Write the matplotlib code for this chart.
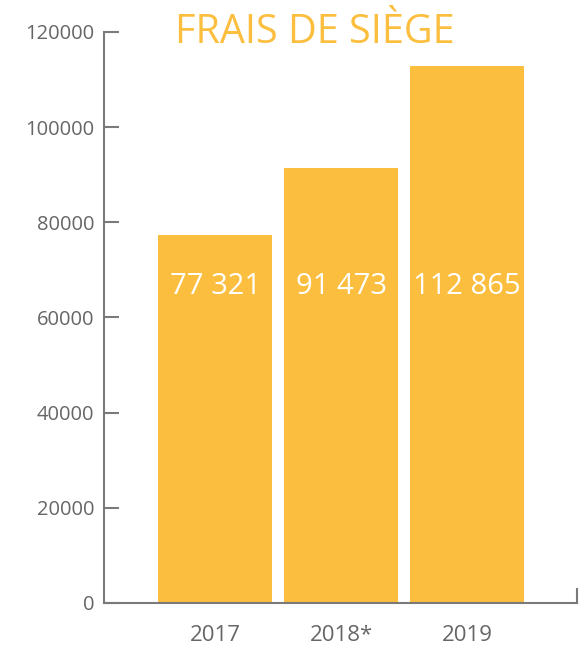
import matplotlib
matplotlib.use("Agg")
import matplotlib.pyplot as plt

years = ["2017", "2018*", "2019"]
values = [77321, 91473, 112865]
value_labels = ["77 321", "91 473", "112 865"]
yticks = [0, 20000, 40000, 60000, 80000, 100000, 120000]
title = "FRAIS DE SIÈGE"

plt.rcParams['font.family'] = ['Open Sans', 'DejaVu Sans']
bar_color = "#FCBE3E"
axis_color = "#7a7a7a"
text_color = "#666666"

fig = plt.figure(figsize=(5.84, 6.53), dpi=100)
ax = fig.add_axes([104/584, 1-603/653, (577-104)/584, (603-32)/653])

x = list(range(len(years)))
ax.bar(x, values, width=0.905, color=bar_color, zorder=2)
ax.set_xlim(-0.881, 2.873)
ax.set_ylim(0, 120000)

for xi, lab in zip(x, value_labels):
    ax.text(xi, 66600, lab, ha="center", va="center", color="white", fontsize=21, zorder=3)

ax.set_yticks(yticks)
ax.set_yticklabels([str(t) for t in yticks])
ax.tick_params(axis="y", direction="in", length=11, width=1.5, color=axis_color,
               labelcolor=text_color, labelsize=14.5, pad=7)
ax.set_xticks(x)
ax.set_xticklabels(years)
ax.tick_params(axis="x", length=0, labelcolor=text_color, labelsize=16, pad=16)

ax.spines["top"].set_visible(False)
for s in ["left", "bottom", "right"]:
    ax.spines[s].set_color(axis_color)
    ax.spines[s].set_linewidth(1.5)
ax.spines["right"].set_bounds(0, 3000)

fig.text(315/584, 1-33/653, title, ha="center", va="center", color=bar_color, fontsize=28.5)

fig.savefig("out.png", dpi=100)
